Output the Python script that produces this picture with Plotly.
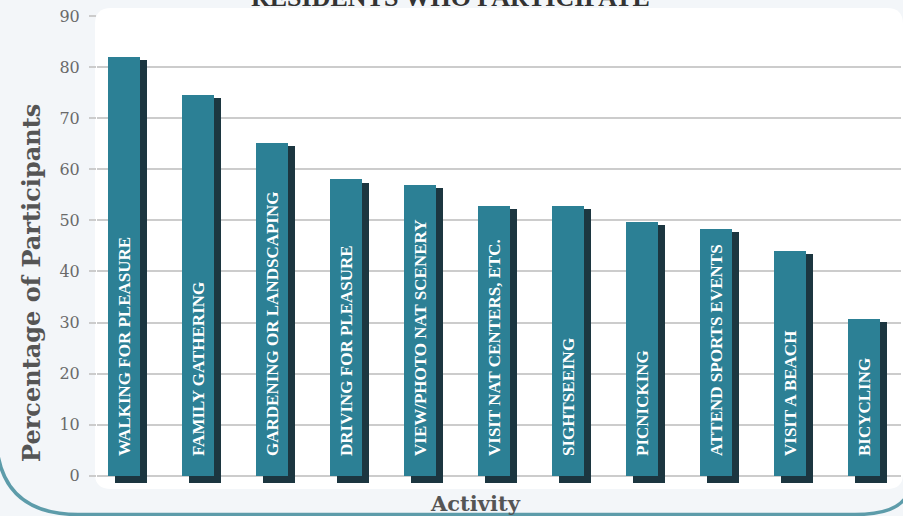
import plotly.graph_objects as go

# ---- data ----
activities = [
    "WALKING FOR PLEASURE", "FAMILY GATHERING", "GARDENING OR LANDSCAPING",
    "DRIVING FOR PLEASURE", "VIEW/PHOTO NAT SCENERY", "VISIT NAT CENTERS, ETC.",
    "SIGHTSEEING", "PICNICKING", "ATTEND SPORTS EVENTS", "VISIT A BEACH", "BICYCLING",
]
percent = [82.0, 74.6, 65.2, 58.0, 57.0, 52.8, 52.8, 49.7, 48.3, 44.0, 30.7]
y_ticks = [0, 10, 20, 30, 40, 50, 60, 70, 80, 90]
title_text = "RESIDENTS WHO PARTICIPATE"
y_title = "Percentage of Participants"
x_title = "Activity"

# ---- layout geometry ----
W, H = 903, 516
L, R, T, B = 97, 2, 16, 32
PW, PH = W - L - R, H - T - B


def px(p):
    return (p - L) / PW


def py(p):
    return 1 - (p - T) / PH


idx = list(range(len(activities)))
front_w = 0.432
shadow_shift = 0.095
shadow_base = -1.5

fig = go.Figure()

# shadow (side) bars
fig.add_trace(go.Bar(
    x=idx, y=[v - 0.6 - shadow_base for v in percent], base=shadow_base,
    width=front_w, offset=-front_w / 2 + shadow_shift,
    marker=dict(color="#1c3640", line=dict(width=0)),
    hoverinfo="skip", showlegend=False,
))

# front bars
fig.add_trace(go.Bar(
    x=idx, y=percent, width=front_w, offset=-front_w / 2,
    marker=dict(color="#2c8095", line=dict(width=0)),
    text=["\u00a0\u00a0\u00a0\u00a0" + a for a in activities],
    textposition="inside", insidetextanchor="start", textangle=-90,
    insidetextfont=dict(family="Liberation Serif", size=17, color="white", weight="bold"),
    cliponaxis=False, showlegend=False,
))

shapes = [
    # white rounded panel
    dict(type="path", xref="paper", yref="paper", layer="below",
         path=(f"M {px(95)},{py(24)} Q {px(95)},{py(8)} {px(111)},{py(8)} "
               f"L {px(887)},{py(8)} Q {px(903)},{py(8)} {px(903)},{py(24)} "
               f"L {px(903)},{py(474)} Q {px(903)},{py(489)} {px(887)},{py(489)} "
               f"L {px(111)},{py(489)} Q {px(95)},{py(489)} {px(95)},{py(474)} Z"),
         fillcolor="white", line=dict(width=0)),
    # teal outer frame (left-bottom)
    dict(type="path", xref="paper", yref="paper", layer="below",
         path=(f"M {px(-4)},{py(432)} Q {px(-4)},{py(514.5)} {px(78)},{py(514.5)} "
               f"L {px(855)},{py(514.5)} Q {px(895)},{py(514.5)} {px(906)},{py(497)}"),
         line=dict(color="#5d9caa", width=3.5)),
]

annotations = [
    dict(text=title_text, xref="paper", yref="paper", x=px(450), y=1, yanchor="bottom",
         yshift=2, showarrow=False,
         font=dict(family="Liberation Serif", size=26, color="#333333", weight="bold")),
    dict(text=y_title, xref="paper", yref="paper", x=px(31), y=py(283), textangle=-90,
         showarrow=False, xanchor="center", yanchor="middle",
         font=dict(family="DejaVu Serif", size=24, color="#555555", weight="bold")),
    dict(text=x_title, xref="paper", yref="paper", x=px(475), y=py(503),
         showarrow=False, xanchor="center", yanchor="middle",
         font=dict(family="DejaVu Serif", size=21, color="#555555", weight="bold")),
]

fig.update_layout(
    width=W, height=H,
    margin=dict(l=L, r=R, t=T, b=B),
    paper_bgcolor="#f3f6f9", plot_bgcolor="rgba(0,0,0,0)",
    barmode="overlay", bargap=0,
    shapes=shapes, annotations=annotations,
    xaxis=dict(range=[-0.365, 10.5], showticklabels=False, showgrid=False,
               zeroline=False, showline=False, ticks=""),
    yaxis=dict(range=[-1.6, 90], tickvals=y_ticks, showgrid=True,
               gridcolor="#cccccc", gridwidth=1.5, zeroline=False, showline=False,
               ticks="outside", ticklen=7, tickcolor="#cccccc", tickwidth=1.5,
               ticklabelstandoff=6,
               tickfont=dict(family="DejaVu Serif", size=16, color="#6a6a6a")),
)

fig.write_html("out.html")
